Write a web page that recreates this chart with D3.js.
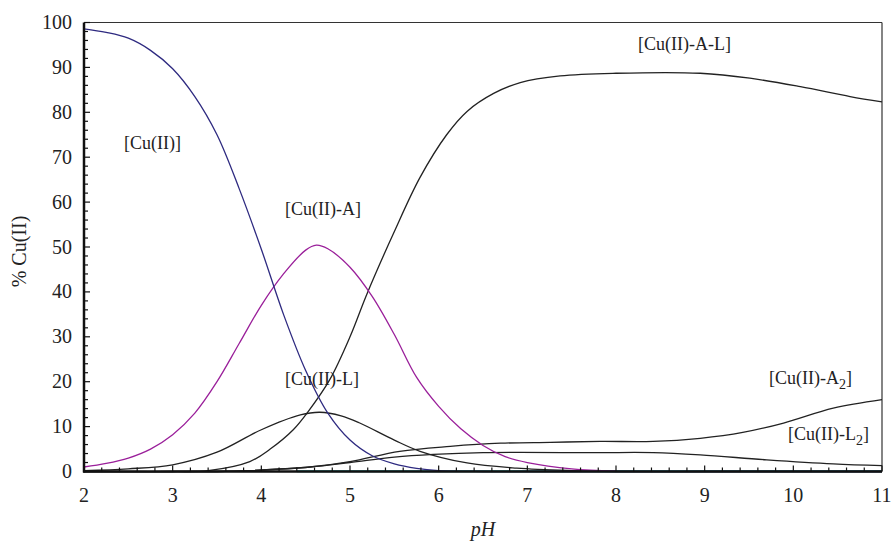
<!DOCTYPE html>
<html>
<head>
<meta charset="utf-8">
<script src="https://cdn.jsdelivr.net/npm/d3@7"></script>
<style>
  body { margin: 0; background: #fff; }
</style>
</head>
<body>
<div id="chart"></div>
<script>
// pH values sampled along each species curve, with % Cu(II)
var cuPH   = [2, 2.25, 2.5, 2.75, 3, 3.25, 3.5, 3.75, 4, 4.25, 4.5, 4.75, 5, 5.25, 5.5, 5.75, 6, 6.5, 7, 8, 9, 10, 11];
var cuVal  = [98.6, 97.8, 96.5, 93.8, 89.7, 83.5, 75, 63, 49.5, 35, 22.5, 13, 7, 3.5, 1.7, 0.7, 0.2, 0, 0, 0, 0, 0, 0];

var cuAPH  = [2, 2.25, 2.5, 2.75, 3, 3.25, 3.5, 3.75, 4, 4.25, 4.5, 4.62, 4.75, 5, 5.25, 5.5, 5.75, 6, 6.25, 6.5, 6.75, 7, 7.5, 8];
var cuAVal = [1, 1.8, 3, 5, 8.2, 13, 20, 28.5, 37, 44, 49.3, 50.4, 49.6, 45.5, 39, 30.5, 21, 14.5, 9.5, 5.8, 3.3, 2, 0.6, 0.1];

var cuALPH  = [2, 3, 3.4, 3.87, 4.1, 4.36, 4.53, 4.77, 5, 5.19, 5.49, 5.79, 6.09, 6.32, 6.62, 6.92, 7.37, 8, 8.95, 9.51, 10.08, 10.64, 11];
var cuALVal = [0, 0, 0.2, 2.2, 5, 9.3, 13.4, 20.4, 30, 39.5, 53, 65.5, 75, 80.2, 84.2, 86.6, 88.1, 88.7, 88.7, 87.6, 85.7, 83.5, 82.3];

var cuLPH  = [2, 2.5, 3, 3.5, 4, 4.44, 4.66, 4.9, 5.11, 5.5, 5.79, 6.32, 6.88, 7.5, 8, 9, 10, 11];
var cuLVal = [0.2, 0.6, 1.5, 4.3, 9.3, 12.6, 13.2, 12.4, 10.8, 7, 4.5, 1.9, 0.75, 0.2, 0, 0, 0, 0];

var cuA2PH  = [2, 3.5, 3.87, 4.55, 5, 5.56, 6.13, 6.7, 7.26, 7.82, 8.42, 8.95, 9.43, 9.89, 10.45, 11];
var cuA2Val = [0, 0, 0.2, 1, 2.2, 4.5, 5.6, 6.3, 6.5, 6.7, 6.7, 7.4, 8.7, 10.8, 14.1, 16];

var cuL2PH  = [2, 3.5, 3.87, 4.55, 5, 5.5, 5.94, 6.5, 7.78, 8.42, 8.95, 9.7, 10.45, 11];
var cuL2Val = [0, 0, 0.2, 1, 2, 3.2, 3.8, 4.2, 4.2, 4.2, 3.7, 2.6, 1.7, 1.3];

var cuHPH  = [4.4, 11];
var cuHVal = [0.05, 0.05];

var xTicks = [2, 3, 4, 5, 6, 7, 8, 9, 10, 11];
var yTicks = [0, 10, 20, 30, 40, 50, 60, 70, 80, 90, 100];

var width = 893, height = 544;
var margin = {top: 22.5, right: 11, bottom: 72.5, left: 84};
var serif = "'Liberation Serif', 'DejaVu Serif', 'Times New Roman', serif";

var svg = d3.select("#chart").append("svg")
  .attr("width", width)
  .attr("height", height)
  .attr("font-family", serif);

var x = d3.scaleLinear().domain([2, 11]).range([margin.left, width - margin.right]);
var y = d3.scaleLinear().domain([0, 100]).range([height - margin.bottom, margin.top]);

// frame (top and right are thin)
svg.append("line")
  .attr("x1", x(2)).attr("x2", x(11)).attr("y1", y(100)).attr("y2", y(100))
  .attr("stroke", "#333").attr("stroke-width", 1.2);
svg.append("line")
  .attr("x1", x(11)).attr("x2", x(11)).attr("y1", y(100)).attr("y2", y(0))
  .attr("stroke", "#333").attr("stroke-width", 1.2);

// curves
var line = d3.line()
  .x(function(d) { return x(d[0]); })
  .y(function(d) { return y(Math.max(0, d[1])); })
  .curve(d3.curveCatmullRom.alpha(0.5));

function plot(px, py, color, w) {
  svg.append("path")
    .datum(d3.zip(px, py))
    .attr("d", line)
    .attr("fill", "none")
    .attr("stroke", color)
    .attr("stroke-width", w || 1.3);
}

plot(cuHPH, cuHVal, "#1fb0b0", 2);
plot(cuL2PH, cuL2Val, "#222");
plot(cuA2PH, cuA2Val, "#222");
plot(cuLPH, cuLVal, "#222");
plot(cuALPH, cuALVal, "#222");
plot(cuAPH, cuAVal, "#9a1f9a");
plot(cuPH, cuVal, "#2e2a80");

// y axis
var yAxis = svg.append("g").attr("transform", "translate(" + margin.left + ",0)");
yAxis.append("line")
  .attr("x1", 0).attr("x2", 0).attr("y1", y(0) + 1).attr("y2", y(100))
  .attr("stroke", "#111").attr("stroke-width", 2.5);
d3.range(0, 101, 2).forEach(function(v) {
  var major = v % 10 == 0;
  yAxis.append("line")
    .attr("x1", 0).attr("x2", major ? 6 : 4)
    .attr("y1", y(v)).attr("y2", y(v))
    .attr("stroke", "#111").attr("stroke-width", 1.2);
});
yTicks.forEach(function(v) {
  yAxis.append("text")
    .attr("x", -12).attr("y", y(v) + 6.5)
    .attr("text-anchor", "end")
    .attr("font-family", serif)
    .attr("fill", "#222")
    .style("font-size", "20px")
    .text(v);
});

// x axis
var xAxis = svg.append("g").attr("transform", "translate(0," + y(0) + ")");
xAxis.append("line")
  .attr("x1", x(2) - 1).attr("x2", x(11)).attr("y1", 0).attr("y2", 0)
  .attr("stroke", "#111").attr("stroke-width", 2.5);
d3.range(0, 46).forEach(function(i) {
  var v = 2 + i * 0.2;
  var major = i % 5 == 0;
  xAxis.append("line")
    .attr("x1", x(v)).attr("x2", x(v))
    .attr("y1", 0).attr("y2", major ? -6 : -4)
    .attr("stroke", "#111").attr("stroke-width", 1.2);
});
xTicks.forEach(function(v) {
  xAxis.append("text")
    .attr("x", x(v)).attr("y", 30)
    .attr("text-anchor", "middle")
    .attr("font-family", serif)
    .attr("fill", "#222")
    .style("font-size", "20px")
    .text(v);
});

// axis titles
svg.append("text")
  .attr("x", x(6.5)).attr("y", 536)
  .attr("text-anchor", "middle")
  .attr("font-family", serif)
  .attr("fill", "#222")
  .style("font-size", "20px")
  .style("font-style", "italic")
  .text("pH");

svg.append("text")
  .attr("transform", "translate(26," + y(49) + ") rotate(-90)")
  .attr("text-anchor", "middle")
  .attr("font-family", serif)
  .attr("fill", "#222")
  .style("font-size", "20px")
  .text("% Cu(II)");

// curve labels
function label(px, py, txt, sub) {
  var t = svg.append("text")
    .attr("x", px).attr("y", py)
    .attr("font-family", serif)
    .attr("fill", "#222")
    .style("font-size", "18px");
  t.append("tspan").text(txt);
  if (sub) {
    t.append("tspan").attr("dy", 5).style("font-size", "14px").text(sub);
    t.append("tspan").attr("dy", -5).text("]");
  }
}
label(124, 149, "[Cu(II)]");
label(285, 215, "[Cu(II)-A]");
label(285, 385, "[Cu(II)-L]");
label(638, 50, "[Cu(II)-A-L]");
label(769, 384, "[Cu(II)-A", "2");
label(788, 440, "[Cu(II)-L", "2");
</script>
</body>
</html>
